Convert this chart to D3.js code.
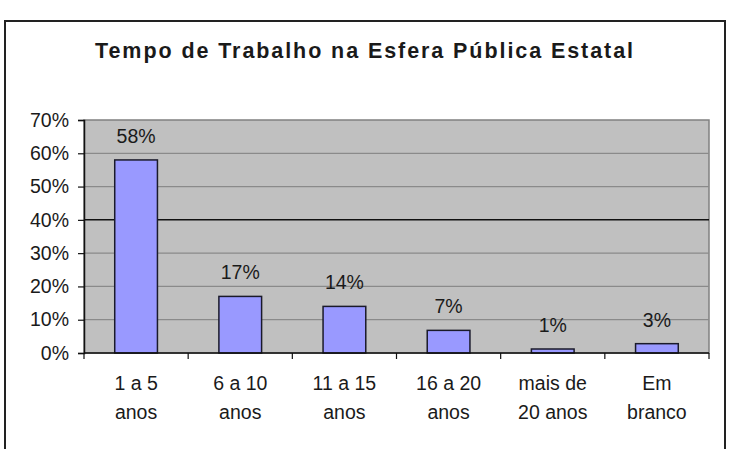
<!DOCTYPE html>
<html>
<head>
<meta charset="utf-8">
<script src="https://cdn.jsdelivr.net/npm/d3@7"></script>
<style>
  html, body { margin: 0; padding: 0; background: #fff; }
  svg { display: block; }
  text { font-family: Arial, "Liberation Sans", sans-serif; fill: #1a1a1a; }
</style>
</head>
<body>
<svg id="chart" width="730" height="449"></svg>
<script>
const title = "Tempo de Trabalho na Esfera Pública Estatal";
const categories = [["1 a 5", "anos"], ["6 a 10", "anos"], ["11 a 15", "anos"], ["16 a 20", "anos"], ["mais de", "20 anos"], ["Em", "branco"]];
const values = [58, 17, 14, 6.8, 1.2, 2.8];
const yTicks = [0, 10, 20, 30, 40, 50, 60, 70];

const svg = d3.select("#chart");
const plot = { left: 84, right: 709, top: 120, bottom: 353 };

// outer frame
svg.append("rect")
  .attr("x", 5).attr("y", 21).attr("width", 720).attr("height", 450)
  .attr("fill", "#fff").attr("stroke", "#222").attr("stroke-width", 2);

// title
svg.append("text")
  .attr("x", 95).attr("y", 58)
  .attr("font-size", 21.5).attr("font-weight", "bold")
  .attr("fill", "#111")
  .attr("textLength", 538).attr("lengthAdjust", "spacing")
  .text(title);

const x = d3.scaleBand().domain(d3.range(categories.length))
  .range([plot.left, plot.right]).padding(0);
const y = d3.scaleLinear().domain([0, 70]).range([plot.bottom, plot.top]);

// plot area
svg.append("rect")
  .attr("x", plot.left).attr("y", plot.top)
  .attr("width", plot.right - plot.left).attr("height", plot.bottom - plot.top)
  .attr("fill", "#c0c0c0").attr("stroke", "#808080").attr("stroke-width", 1.5);

// gridlines
svg.append("g").selectAll("line")
  .data(yTicks.filter(t => t > 0 && t < 70))
  .join("line")
  .attr("x1", plot.left).attr("x2", plot.right)
  .attr("y1", d => y(d)).attr("y2", d => y(d))
  .attr("stroke", d => d === 40 ? "#111" : "#8a8a8a")
  .attr("stroke-width", d => d === 40 ? 1.5 : 1.2);

// bars
const bw = x.bandwidth() * 0.41;
svg.append("g").selectAll("rect")
  .data(values)
  .join("rect")
  .attr("x", (d, i) => x(i) + x.bandwidth() / 2 - bw / 2)
  .attr("y", d => y(d))
  .attr("width", bw)
  .attr("height", d => y(0) - y(d))
  .attr("fill", "#9999ff")
  .attr("stroke", "#1a1a2a").attr("stroke-width", 1.5);

// data labels
svg.append("g").selectAll("text")
  .data(values)
  .join("text")
  .attr("x", (d, i) => x(i) + x.bandwidth() / 2)
  .attr("y", d => y(d) - 24)
  .attr("dy", "0.35em")
  .attr("text-anchor", "middle")
  .attr("font-size", 19.5)
  .attr("fill", "#222")
  .text(d => Math.round(d) + "%");

// y axis
const yAxis = d3.axisLeft(y).tickValues(yTicks).tickSize(6).tickPadding(9)
  .tickFormat(d => d + "%");
const gy = svg.append("g").attr("transform", `translate(${plot.left},0)`).call(yAxis);
gy.select(".domain").attr("stroke", "#111").attr("stroke-width", 1.5);
gy.selectAll(".tick line").attr("stroke", "#111").attr("stroke-width", 1.2);
gy.selectAll(".tick text").attr("font-size", 19.5).attr("font-family", "Arial, 'Liberation Sans', sans-serif").attr("fill", "#222");

// x axis with ticks at category boundaries
const gx = svg.append("g");
gx.append("line")
  .attr("x1", plot.left).attr("x2", plot.right)
  .attr("y1", y(0)).attr("y2", y(0))
  .attr("stroke", "#111").attr("stroke-width", 1.5);
const bounds = d3.range(categories.length + 1).map(i => i < categories.length ? x(i) : x(i - 1) + x.bandwidth());
gx.selectAll(".xt").data(bounds).join("line")
  .attr("class", "xt")
  .attr("x1", d => d).attr("x2", d => d)
  .attr("y1", y(0)).attr("y2", y(0) + 6)
  .attr("stroke", "#111").attr("stroke-width", 1.2);

const xl = gx.selectAll(".xl").data(categories).join("text")
  .attr("class", "xl")
  .attr("text-anchor", "middle")
  .attr("font-size", 19.5)
  .attr("fill", "#222");
xl.append("tspan")
  .attr("x", (d, i) => x(i) + x.bandwidth() / 2)
  .attr("y", 383).attr("dy", "0.35em")
  .text(d => d[0]);
xl.append("tspan")
  .attr("x", (d, i) => x(i) + x.bandwidth() / 2)
  .attr("y", 412).attr("dy", "0.35em")
  .text(d => d[1]);
</script>
</body>
</html>
